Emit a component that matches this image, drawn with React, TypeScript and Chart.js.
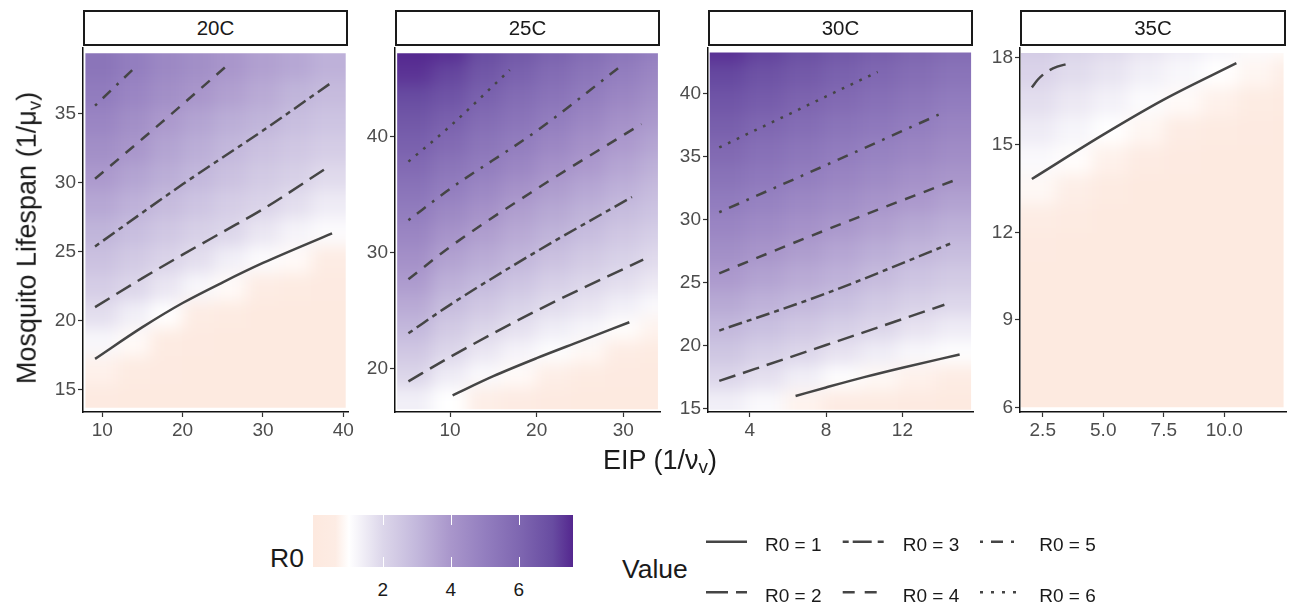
import React, { useEffect, useRef } from "react";
import { Chart, registerables } from "chart.js";
Chart.register(...registerables);

const FONT = '"Liberation Sans", Arial, Helvetica, sans-serif';

// ---------------- data ----------------
const panelTitles = ["20C", "25C", "30C", "35C"];
const levelLabels = ["R0 = 1", "R0 = 2", "R0 = 3", "R0 = 4", "R0 = 5", "R0 = 6"];

// 20C
const p1XTicks = [10, 20, 30, 40];
const p1YTicks = [15, 20, 25, 30, 35];
const p1HeatX = [10, 14, 18, 22, 26, 30, 34, 38];
const p1HeatY = [14.5, 16.5, 18.5, 20.5, 22.5, 24.5, 26.5, 28.5, 30.5, 32.5, 34.5, 36.5, 38.5];
const p1R0 = [
  [0.2, 0.1, 0.1, 0.1, 0.1, 0.1, 0.1, 0.1],
  [0.7, 0.3, 0.2, 0.1, 0.1, 0.1, 0.1, 0.1],
  [1.2, 0.9, 0.4, 0.2, 0.1, 0.1, 0.1, 0.1],
  [1.8, 1.4, 1.0, 0.6, 0.4, 0.1, 0.1, 0.1],
  [2.3, 2.0, 1.6, 1.2, 0.9, 0.6, 0.4, 0.2],
  [2.7, 2.4, 2.1, 1.8, 1.4, 1.1, 0.9, 0.6],
  [3.1, 2.8, 2.5, 2.2, 2.0, 1.6, 1.3, 1.1],
  [3.5, 3.2, 2.9, 2.6, 2.3, 2.1, 1.8, 1.5],
  [3.9, 3.6, 3.3, 3.0, 2.7, 2.4, 2.2, 1.9],
  [4.3, 4.0, 3.6, 3.3, 3.0, 2.7, 2.5, 2.3],
  [4.7, 4.3, 3.9, 3.6, 3.3, 3.1, 2.8, 2.6],
  [5.1, 4.7, 4.3, 4.0, 3.7, 3.4, 3.1, 2.9],
  [5.4, 5.0, 4.6, 4.3, 4.0, 3.7, 3.5, 3.2],
];
const p1Extent = [7.9, 40.3, 13.7, 39.4];
const p1L1 = [[9.1, 17.25], [15, 19.55], [20, 21.3], [25, 22.8], [30, 24.2], [38.6, 26.35]];
const p1L2 = [[9.1, 21.0], [15, 23.1], [20, 24.8], [25, 26.45], [30, 28.1], [37.7, 31.0]];
const p1L3 = [[9.1, 25.4], [20, 29.9], [30, 33.8], [38.6, 37.3]];
const p1L4 = [[9.1, 30.3], [15, 33.2], [20, 35.7], [25.9, 38.7]];
const p1L5 = [[9.1, 35.6], [14.3, 38.5]];
const p1L6: number[][] = [];

// 25C
const p2XTicks = [10, 20, 30];
const p2YTicks = [20, 30, 40];
const p2HeatX = [6, 10, 14, 18, 22, 26, 30, 34];
const p2HeatY = [17.5, 19.5, 21.5, 23.5, 25.5, 27.5, 29.5, 31.5, 33.5, 35.5, 37.5, 39.5, 41.5, 43.5, 45.5, 47.5];
const p2R0 = [
  [1.4, 1.0, 0.65, 0.45, 0.2, 0.1, 0.1, 0.1],
  [2.05, 1.5, 1.15, 0.9, 0.65, 0.4, 0.2, 0.1],
  [2.5, 2.0, 1.6, 1.3, 1.05, 0.85, 0.55, 0.35],
  [3.0, 2.4, 2.05, 1.75, 1.45, 1.25, 0.95, 0.75],
  [3.4, 2.85, 2.5, 2.15, 1.85, 1.65, 1.4, 1.15],
  [3.85, 3.25, 2.95, 2.6, 2.25, 2.0, 1.8, 1.55],
  [4.25, 3.65, 3.35, 3.05, 2.7, 2.4, 2.15, 1.9],
  [4.65, 4.1, 3.75, 3.4, 3.1, 2.8, 2.5, 2.25],
  [5.05, 4.55, 4.15, 3.75, 3.45, 3.15, 2.85, 2.6],
  [5.45, 5.0, 4.6, 4.15, 3.8, 3.5, 3.2, 2.9],
  [5.85, 5.4, 5.05, 4.65, 4.2, 3.9, 3.55, 3.25],
  [6.25, 5.85, 5.4, 5.05, 4.65, 4.25, 3.9, 3.6],
  [6.6, 6.25, 5.8, 5.45, 5.05, 4.65, 4.25, 3.95],
  [7.0, 6.7, 6.2, 5.8, 5.45, 5.05, 4.65, 4.3],
  [7.4, 7.1, 6.6, 6.2, 5.8, 5.4, 5.0, 4.65],
  [7.7, 7.5, 7.0, 6.6, 6.2, 5.8, 5.4, 5.0],
];
const p2Extent = [3.9, 34.0, 16.5, 47.2];
const p2L1 = [[10.3, 17.7], [15, 19.35], [20, 20.9], [25, 22.35], [30.7, 24.0]];
const p2L2 = [[5.2, 18.9], [10, 21.0], [20, 25.0], [32.3, 29.4]];
const p2L3 = [[5.2, 23.05], [10, 25.5], [20, 30.1], [31, 34.8]];
const p2L4 = [[5.2, 27.7], [10, 30.5], [20, 35.5], [32.1, 41.1]];
const p2L5 = [[5.2, 32.8], [10, 35.5], [20, 40.5], [29.4, 45.9]];
const p2L6 = [[5.2, 37.85], [10, 40.9], [16.9, 45.75]];

// 30C
const p3XTicks = [4, 8, 12];
const p3YTicks = [15, 20, 25, 30, 35, 40];
const p3HeatX = [2.8, 4.8, 6.8, 8.8, 10.8, 12.8, 14.8];
const p3HeatY = [15.5, 17.5, 19.5, 21.5, 23.5, 25.5, 27.5, 29.5, 31.5, 33.5, 35.5, 37.5, 39.5, 41.5, 43.5];
const p3R0 = [
  [1.4, 1.15, 0.75, 0.45, 0.3, 0.2, 0.1],
  [2.0, 1.75, 1.4, 1.05, 0.85, 0.7, 0.6],
  [2.55, 2.25, 2.0, 1.7, 1.45, 1.2, 1.05],
  [3.0, 2.75, 2.5, 2.25, 2.0, 1.7, 1.5],
  [3.45, 3.2, 3.0, 2.75, 2.45, 2.2, 2.0],
  [3.9, 3.65, 3.4, 3.2, 2.9, 2.6, 2.4],
  [4.3, 4.05, 3.8, 3.55, 3.3, 3.05, 2.85],
  [4.7, 4.45, 4.2, 3.95, 3.7, 3.45, 3.25],
  [5.1, 4.85, 4.6, 4.35, 4.1, 3.9, 3.65],
  [5.5, 5.25, 5.0, 4.75, 4.5, 4.25, 4.05],
  [5.9, 5.6, 5.35, 5.1, 4.85, 4.65, 4.4],
  [6.3, 6.0, 5.75, 5.45, 5.25, 5.0, 4.75],
  [6.65, 6.4, 6.1, 5.85, 5.6, 5.35, 5.1],
  [7.05, 6.75, 6.5, 6.2, 5.95, 5.7, 5.45],
  [7.45, 7.15, 6.85, 6.55, 6.3, 6.05, 5.8],
];
const p3Extent = [1.9, 15.6, 14.9, 43.3];
const p3L1 = [[6.4, 16.0], [8, 16.68], [10, 17.5], [12, 18.25], [15, 19.3]];
const p3L2 = [[2.4, 17.2], [8, 20.05], [14.2, 23.25]];
const p3L3 = [[2.4, 21.2], [8, 24.15], [14.5, 28.1]];
const p3L4 = [[2.4, 25.75], [8, 29.2], [15, 33.3]];
const p3L5 = [[2.4, 30.6], [8, 34.35], [13.9, 38.35]];
const p3L6 = [[2.4, 35.75], [8, 39.8], [10.7, 41.75]];

// 35C
const p4XTicks = [2.5, 5, 7.5, 10];
const p4XLabels = ["2.5", "5.0", "7.5", "10.0"];
const p4YTicks = [6, 9, 12, 15, 18];
const p4HeatX = [2.3, 3.8, 5.3, 6.8, 8.3, 9.8, 11.3, 12.8];
const p4HeatY = [6.5, 7.5, 8.5, 9.5, 10.5, 11.5, 12.5, 13.5, 14.5, 15.5, 16.5, 17.5, 18.5];
const p4R0 = [
  [0.1, 0.1, 0.1, 0.1, 0.1, 0.1, 0.1, 0.1],
  [0.1, 0.1, 0.1, 0.1, 0.1, 0.1, 0.1, 0.1],
  [0.1, 0.1, 0.1, 0.1, 0.1, 0.1, 0.1, 0.1],
  [0.1, 0.1, 0.1, 0.1, 0.1, 0.1, 0.1, 0.1],
  [0.1, 0.1, 0.1, 0.1, 0.1, 0.1, 0.1, 0.1],
  [0.25, 0.1, 0.1, 0.1, 0.1, 0.1, 0.1, 0.1],
  [0.55, 0.35, 0.1, 0.1, 0.1, 0.1, 0.1, 0.1],
  [0.85, 0.65, 0.4, 0.15, 0.1, 0.1, 0.1, 0.1],
  [1.15, 0.95, 0.7, 0.45, 0.25, 0.1, 0.1, 0.1],
  [1.5, 1.25, 1.0, 0.8, 0.55, 0.35, 0.2, 0.1],
  [1.8, 1.55, 1.35, 1.1, 0.9, 0.7, 0.5, 0.35],
  [2.1, 1.85, 1.65, 1.4, 1.2, 1.0, 0.8, 0.65],
  [2.4, 2.15, 1.95, 1.7, 1.5, 1.3, 1.1, 0.95],
];
const p4Extent = [1.6, 12.45, 6.0, 18.15];
const p4L1 = [[2.05, 13.83], [5, 15.35], [7.5, 16.55], [10.5, 17.8]];
const p4L2 = [[2.05, 16.97], [2.3, 17.24], [2.7, 17.52], [3.1, 17.68], [3.49, 17.77]];

// colour bar
const cbTicks = [2, 4, 6];
const cbMin = -0.06;
const cbMax = 7.6;

// ---------------- styles ----------------
const colorStops: [number, string][] = [
  [0, "#fde9df"],
  [0.6, "#fdece4"],
  [1, "#ffffff"],
  [2, "#dcd6ea"],
  [3, "#c3b8dc"],
  [4, "#a996cb"],
  [5, "#937ebf"],
  [6, "#7f67b1"],
  [7, "#684ca1"],
  [7.6, "#54278f"],
];
const lineDashes = [[], [17, 8], [5, 5, 14, 5], [11, 9], [2.7, 8, 11, 8], [2.7, 7]];
const legendDashes = [[], [22, 8], [6, 4, 19, 6], [12, 10], [3, 8, 12, 8], [3, 8]];
const LINE_COLOR = "#454545";
const LINE_W = 2.5;
const HEAT_BLUR = 8;

function hexToRgb(h: string) {
  const n = parseInt(h.slice(1), 16);
  return [(n >> 16) & 255, (n >> 8) & 255, n & 255];
}
function colorFor(v: number) {
  if (v <= colorStops[0][0]) return colorStops[0][1];
  for (let i = 1; i < colorStops.length; i++) {
    const [v1, c1] = colorStops[i];
    const [v0, c0] = colorStops[i - 1];
    if (v <= v1) {
      const t = (v - v0) / (v1 - v0);
      const a = hexToRgb(c0), b = hexToRgb(c1);
      const r = a.map((x, k) => Math.round(x + (b[k] - x) * t));
      return `rgb(${r[0]},${r[1]},${r[2]})`;
    }
  }
  return colorStops[colorStops.length - 1][1];
}

const PLOT_T = 48;
const PLOT_B = 412;
const Y_AXIS_W = 70;
const PAD_T = 14;
const PAD_R = 25;
const X_AXIS_H = 40;

const panels = [
  {
    title: panelTitles[0], l: 83, r: 348, xMin: 7.6, xMax: 40.585, yMin: 13.4, yMax: 39.78,
    xTicks: p1XTicks, xLabels: p1XTicks.map(String), yTicks: p1YTicks,
    hx: p1HeatX, hy: p1HeatY, hv: p1R0, ext: p1Extent,
    lines: [p1L1, p1L2, p1L3, p1L4, p1L5, p1L6],
  },
  {
    title: panelTitles[1], l: 395, r: 660, xMin: 3.65, xMax: 34.24, yMin: 16.26, yMax: 47.65,
    xTicks: p2XTicks, xLabels: p2XTicks.map(String), yTicks: p2YTicks,
    hx: p2HeatX, hy: p2HeatY, hv: p2R0, ext: p2Extent,
    lines: [p2L1, p2L2, p2L3, p2L4, p2L5, p2L6],
  },
  {
    title: panelTitles[2], l: 708, r: 973, xMin: 1.81, xMax: 15.7, yMin: 14.73, yMax: 43.65,
    xTicks: p3XTicks, xLabels: p3XTicks.map(String), yTicks: p3YTicks,
    hx: p3HeatX, hy: p3HeatY, hv: p3R0, ext: p3Extent,
    lines: [p3L1, p3L2, p3L3, p3L4, p3L5, p3L6],
  },
  {
    title: panelTitles[3], l: 1020, r: 1286, xMin: 1.56, xMax: 12.55, yMin: 5.84, yMax: 18.32,
    xTicks: p4XTicks, xLabels: p4XLabels, yTicks: p4YTicks,
    hx: p4HeatX, hy: p4HeatY, hv: p4R0, ext: p4Extent,
    lines: [p4L1, p4L2, [], [], [], []],
  },
];

function makeHeatPlugin(hx: number[], hy: number[], hv: number[][], ext: number[]) {
  return {
    id: "heat",
    beforeDatasetsDraw(chart: any) {
      const { ctx, chartArea } = chart;
      const xs = chart.scales.x, ys = chart.scales.y;
      const M = 40;
      const W = chart.width, H = chart.height;
      const off = document.createElement("canvas");
      off.width = W + 2 * M;
      off.height = H + 2 * M;
      const oc = off.getContext("2d") as CanvasRenderingContext2D;
      oc.translate(M, M);
      for (let i = 0; i < hy.length; i++) {
        const ylo = i === 0 ? ext[2] : (hy[i - 1] + hy[i]) / 2;
        const yhi = i === hy.length - 1 ? ext[3] : (hy[i] + hy[i + 1]) / 2;
        for (let j = 0; j < hx.length; j++) {
          const xlo = j === 0 ? ext[0] : (hx[j - 1] + hx[j]) / 2;
          const xhi = j === hx.length - 1 ? ext[1] : (hx[j] + hx[j + 1]) / 2;
          let px0 = Math.floor(xs.getPixelForValue(xlo));
          let px1 = Math.ceil(xs.getPixelForValue(xhi));
          let py0 = Math.floor(ys.getPixelForValue(yhi));
          let py1 = Math.ceil(ys.getPixelForValue(ylo));
          if (j === 0) px0 -= M;
          if (j === hx.length - 1) px1 += M;
          if (i === 0) py1 += M;
          if (i === hy.length - 1) py0 -= M;
          oc.fillStyle = colorFor(hv[i][j]);
          oc.fillRect(px0, py0, px1 - px0, py1 - py0);
        }
      }
      ctx.save();
      const cx0 = Math.max(chartArea.left, xs.getPixelForValue(ext[0]));
      const cx1 = Math.min(chartArea.right, xs.getPixelForValue(ext[1]));
      const cy0 = Math.max(chartArea.top, ys.getPixelForValue(ext[3]));
      const cy1 = Math.min(chartArea.bottom, ys.getPixelForValue(ext[2]));
      ctx.beginPath();
      ctx.rect(cx0, cy0, cx1 - cx0, cy1 - cy0);
      ctx.clip();
      ctx.filter = `blur(${HEAT_BLUR}px)`;
      ctx.drawImage(off, -M, -M);
      ctx.filter = "none";
      ctx.restore();
    },
  };
}

export default function App() {
  const refs = useRef<(HTMLCanvasElement | null)[]>([]);

  useEffect(() => {
    const charts: Chart[] = [];
    panels.forEach((p, idx) => {
      const cv = refs.current[idx];
      if (!cv) return;
      const datasets = p.lines
        .map((pts, k) => ({
          label: levelLabels[k],
          data: pts.map(([x, y]) => ({ x, y })),
          borderColor: LINE_COLOR,
          borderWidth: LINE_W,
          borderDash: lineDashes[k],
          borderCapStyle: "butt",
          pointRadius: 0,
          fill: false,
          cubicInterpolationMode: "monotone",
        }))
        .filter((d) => d.data.length > 0);
      const tickFont = { family: FONT, size: 19 };
      const chart = new Chart(cv, {
        type: "line",
        data: { datasets } as any,
        options: {
          animation: false,
          responsive: false,
          maintainAspectRatio: false,
          devicePixelRatio: 1,
          events: [],
          layout: { padding: { left: 0, right: PAD_R, top: PAD_T, bottom: 0 } },
          plugins: { legend: { display: false }, tooltip: { enabled: false }, title: { display: false } },
          scales: {
            x: {
              type: "linear",
              min: p.xMin,
              max: p.xMax,
              bounds: "data",
              afterBuildTicks: (s: any) => {
                s.ticks = p.xTicks.map((v) => ({ value: v }));
              },
              afterFit: (s: any) => {
                s.height = X_AXIS_H;
                s.paddingLeft = 0;
                s.paddingRight = 0;
              },
              ticks: {
                autoSkip: false,
                maxRotation: 0,
                minRotation: 0,
                padding: 2,
                color: "#4d4d4d",
                font: tickFont,
                callback: (_v: any, i: number) => p.xLabels[i],
              },
              grid: { display: true, drawOnChartArea: false, drawTicks: true, tickLength: 5, tickColor: "#333333", tickWidth: 1.2 },
              border: { display: true, color: "#111111", width: 1.5, z: 1 },
            },
            y: {
              type: "linear",
              min: p.yMin,
              max: p.yMax,
              bounds: "data",
              afterBuildTicks: (s: any) => {
                s.ticks = p.yTicks.map((v) => ({ value: v }));
              },
              afterFit: (s: any) => {
                s.width = Y_AXIS_W;
                s.paddingTop = 0;
                s.paddingBottom = 0;
              },
              ticks: {
                autoSkip: false,
                padding: 2,
                color: "#4d4d4d",
                font: tickFont,
                callback: (_v: any, i: number) => String(p.yTicks[i]),
              },
              grid: { display: true, drawOnChartArea: false, drawTicks: true, tickLength: 5, tickColor: "#333333", tickWidth: 1.2 },
              border: { display: true, color: "#111111", width: 1.5, z: 1 },
            },
          },
        } as any,
        plugins: [makeHeatPlugin(p.hx, p.hy, p.hv, p.ext)],
      });
      charts.push(chart);
    });
    return () => charts.forEach((c) => c.destroy());
  }, []);

  const cbW = 313, cbR = 573, cbTop = 515, cbH = 52;
  const cbPx = (v: number) => cbW + ((v - cbMin) / (cbMax - cbMin)) * (cbR - cbW);
  const gradient =
    "linear-gradient(to right, " +
    colorStops
      .map(([v, c]) => `${c} ${(Math.max(0, (v - cbMin) / (cbMax - cbMin)) * 100).toFixed(2)}%`)
      .join(", ") +
    ")";

  const legendCols = [706, 842.7, 980];
  const legendLabelX = [765, 902.7, 1039.3];
  const legendRowsY = [541.7, 592.3];
  const legendTextY = [543.7, 594.5];
  const legendItems = levelLabels.map((lab, k) => ({ lab, k, col: Math.floor(k / 2), row: k % 2 }));

  const textStyle = (x: number, y: number, size: number, extra: any = {}) => ({
    position: "absolute" as const,
    left: x,
    top: y,
    fontSize: size,
    lineHeight: 1,
    transform: "translateY(-50%)",
    whiteSpace: "nowrap" as const,
    color: "#1a1a1a",
    ...extra,
  });

  return (
    <div
      style={{
        position: "absolute",
        left: 0,
        top: 0,
        width: 1291,
        height: 603,
        background: "#ffffff",
        fontFamily: FONT,
        overflow: "hidden",
      }}
    >
      {panels.map((p, i) => {
        const w = Y_AXIS_W + (p.r - p.l) + PAD_R;
        const h = PAD_T + (PLOT_B - PLOT_T) + X_AXIS_H;
        return (
          <canvas
            key={"c" + i}
            ref={(el) => {
              refs.current[i] = el;
            }}
            width={w}
            height={h}
            style={{ position: "absolute", left: p.l - Y_AXIS_W, top: PLOT_T - PAD_T, width: w, height: h }}
          />
        );
      })}
      {panels.map((p, i) => (
        <div
          key={"s" + i}
          style={{
            position: "absolute",
            left: p.l,
            top: 10,
            width: p.r - p.l,
            height: 36,
            boxSizing: "border-box",
            border: "2px solid #1a1a1a",
            background: "#ffffff",
            display: "flex",
            alignItems: "center",
            justifyContent: "center",
            fontSize: 20.5,
            color: "#1a1a1a",
          }}
        >
          {p.title}
        </div>
      ))}
      <div
        style={{
          position: "absolute",
          left: 29,
          top: 238,
          transform: "translate(-50%, -50%) rotate(-90deg)",
          fontSize: 27,
          lineHeight: 1,
          whiteSpace: "nowrap",
          color: "#1a1a1a",
        }}
      >
        Mosquito Lifespan (1/μ<sub style={{ fontSize: "70%", verticalAlign: "-0.25em" }}>v</sub>)
      </div>
      <div
        style={{
          position: "absolute",
          left: 660,
          top: 462,
          transform: "translate(-50%, -50%)",
          fontSize: 27,
          lineHeight: 1,
          whiteSpace: "nowrap",
          color: "#1a1a1a",
        }}
      >
        EIP (1/ν<sub style={{ fontSize: "70%", verticalAlign: "-0.25em" }}>v</sub>)
      </div>

      <div style={textStyle(270, 558, 26.5)}>R0</div>
      <div
        style={{
          position: "absolute",
          left: cbW,
          top: cbTop,
          width: cbR - cbW,
          height: cbH,
          background: gradient,
        }}
      />
      {cbTicks.map((t) => (
        <React.Fragment key={"cb" + t}>
          <div style={{ position: "absolute", left: Math.round(cbPx(t)), top: cbTop, width: 1, height: 10, background: "#ffffff" }} />
          <div style={{ position: "absolute", left: Math.round(cbPx(t)), top: cbTop + cbH - 10, width: 1, height: 10, background: "#ffffff" }} />
          <div style={{ ...textStyle(cbPx(t), 588.5, 19), transform: "translate(-50%, -50%)" }}>{t}</div>
        </React.Fragment>
      ))}

      <div style={textStyle(622, 569, 26.5)}>Value</div>
      <svg style={{ position: "absolute", left: 0, top: 0 }} width={1291} height={603}>
        {legendItems.map((it) => (
          <line
            key={"l" + it.k}
            x1={legendCols[it.col]}
            x2={legendCols[it.col] + 41}
            y1={legendRowsY[it.row]}
            y2={legendRowsY[it.row]}
            stroke={LINE_COLOR}
            strokeWidth={LINE_W}
            strokeDasharray={legendDashes[it.k].length ? legendDashes[it.k].join(" ") : undefined}
          />
        ))}
      </svg>
      {legendItems.map((it) => (
        <div key={"t" + it.k} style={textStyle(legendLabelX[it.col], legendTextY[it.row], 19)}>
          {it.lab}
        </div>
      ))}
    </div>
  );
}
